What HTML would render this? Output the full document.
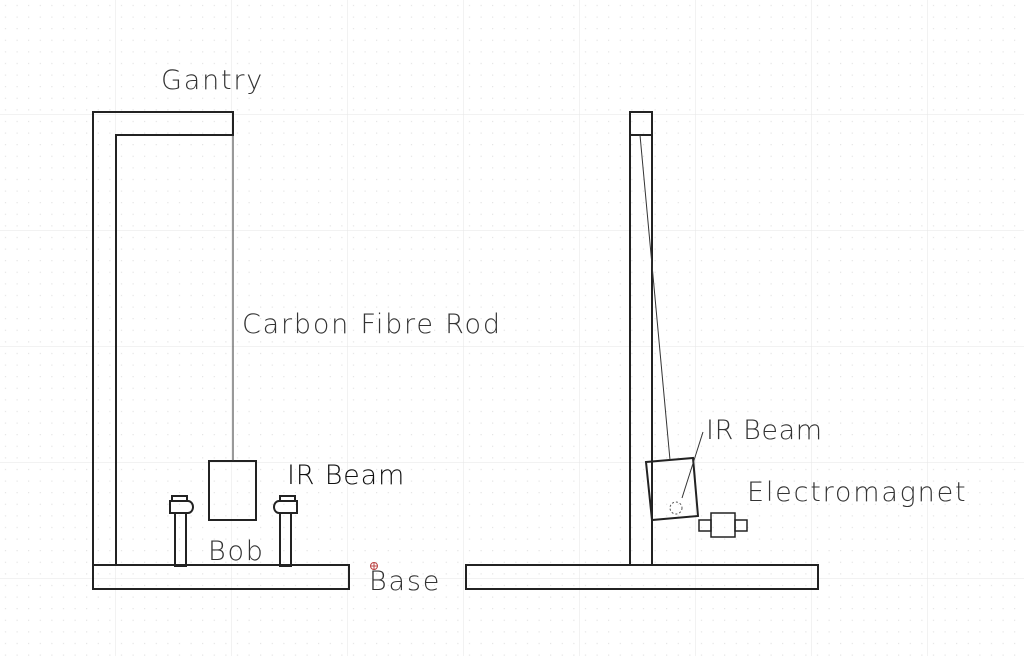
<!DOCTYPE html>
<html><head><style>
body{margin:0;background:#fff}
svg text{font-family:"DejaVu Sans","Liberation Sans",sans-serif;font-weight:200;letter-spacing:1.8px}
</style></head><body>
<svg width="1024" height="656" xmlns="http://www.w3.org/2000/svg">
<defs>
<pattern id="dots" width="11.6" height="11.6" patternUnits="userSpaceOnUse">
<rect x="5" y="5" width="1" height="1" fill="#d8d8d8"/>
</pattern>
<pattern id="maj" width="116" height="116" patternUnits="userSpaceOnUse" x="0" y="-1">
<path d="M116 0V116M0 116H116" stroke="#e6e6e6" stroke-width="1" fill="none"/>
</pattern>
</defs>
<rect width="1024" height="656" fill="url(#dots)"/>
<rect width="1024" height="656" fill="url(#maj)"/>
<g fill="none" stroke="#222" stroke-width="2">
<path d="M93 565V112H233V135H116V565"/>
<rect x="93" y="565" width="256" height="24"/>
<rect x="209" y="461" width="47" height="59"/>
<rect x="175" y="513" width="11" height="53"/>
<rect x="172" y="496" width="15" height="5"/>
<path d="M170 501H188A5 6 0 0 1 188 513H170Z"/>
<rect x="280" y="513" width="11" height="53"/>
<rect x="280" y="496" width="15" height="5"/>
<path d="M297 501H279A5 6 0 0 0 279 513H297Z"/>
<rect x="630" y="112" width="22" height="453"/>
<line x1="630" y1="135" x2="652" y2="135"/>
<rect x="466" y="565" width="352" height="24"/>
<path d="M646 462L693 458L698 516L652 520Z"/>
<rect x="711" y="513" width="24" height="24" stroke-width="1.5"/>
<rect x="699" y="520" width="12" height="11" stroke-width="1.5"/>
<rect x="735" y="520" width="12" height="11" stroke-width="1.5"/>
</g>
<g stroke="#333" stroke-width="1" fill="none">
<line x1="233" y1="135" x2="233" y2="461"/>
<line x1="640" y1="135" x2="670" y2="460"/>
<line x1="703" y1="432" x2="682" y2="498"/>
<circle cx="676" cy="508" r="6" stroke-dasharray="2 2" stroke="#555"/>
<circle cx="374" cy="566" r="3.5" stroke="#b44"/>
<path d="M370 566h8M374 562v8" stroke="#b44"/>
</g>
<g fill="#333" font-size="27">
<text x="161" y="89">Gantry</text>
<text x="242" y="333">Carbon Fibre Rod</text>
<text x="287" y="484" fill="#111" font-weight="400" style="letter-spacing:0.8px">IR Beam</text>
<text x="208" y="560">Bob</text>
<text x="369" y="590">Base</text>
<text x="706" y="439" style="letter-spacing:0.6px">IR Beam</text>
<text x="747" y="501">Electromagnet</text>
</g>
</svg>
</body></html>
